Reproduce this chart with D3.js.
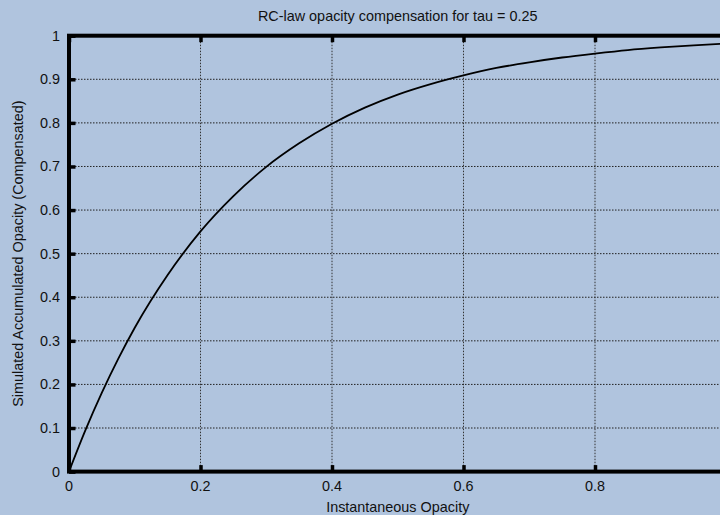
<!DOCTYPE html>
<html>
<head>
<meta charset="utf-8">
<script src="https://cdn.jsdelivr.net/npm/d3@7"></script>
<style>
    body { margin: 0; background: #b0c4de; }
    text { font-family: "Liberation Sans", Arial, sans-serif; fill: #111; }
</style>
</head>
<body>
<div class="chart"></div>
<script>
// values
var opacityIn = [0, 0.025, 0.05, 0.075, 0.1, 0.15, 0.2, 0.25, 0.3, 0.35, 0.4, 0.45, 0.5,
    0.55, 0.6, 0.65, 0.7, 0.75, 0.8, 0.85, 0.9, 0.95, 1.0];
var opacityAccum = [0, 0.095, 0.181, 0.259, 0.330, 0.451, 0.551, 0.632, 0.699, 0.753, 0.798, 0.835, 0.865,
    0.889, 0.909, 0.926, 0.939, 0.950, 0.959, 0.967, 0.973, 0.978, 0.982];
var xTicks = [0, 0.2, 0.4, 0.6, 0.8, 1];
var yTicks = [0, 0.1, 0.2, 0.3, 0.4, 0.5, 0.6, 0.7, 0.8, 0.9, 1];
// the "1" label on x sits past the window edge in the original, so it is left out
var xTickLabels = ["0", "0.2", "0.4", "0.6", "0.8"];
var yTickLabels = ["0", "0.1", "0.2", "0.3", "0.4", "0.5", "0.6", "0.7", "0.8", "0.9", "1"];

var title = "RC-law opacity compensation for tau = 0.25";
var xTitle = "Instantaneous Opacity";
var yTitle = "Simulated Accumulated Opacity (Compensated)";

// margin convention, right side runs past the window like the original
const margin = ({top: 35.7, right: 0, bottom: 43.4, left: 69});
const W = 720, H = 515;
const w = 657.5;
const h = H - margin.top - margin.bottom;
const fontSize = "14.4px";

var svg = d3.select(".chart")
    .append("svg")
    .attr("width", W)
    .attr("height", H)
    .style("display", "block");

var g = svg.append("g")
    .attr("transform", "translate(" + margin.left + "," + margin.top + ")");

var xScale = d3.scaleLinear().domain([0, 1]).range([0, w]);
var yScale = d3.scaleLinear().domain([0, 1]).range([h, 0]);

// grid
g.selectAll(".vgrid")
    .data(xTicks.slice(1, -1))
    .enter().append("line")
    .attr("class", "vgrid")
    .attr("x1", d => xScale(d)).attr("x2", d => xScale(d))
    .attr("y1", 0).attr("y2", h)
    .style("stroke", "#333")
    .style("stroke-width", 1)
    .style("stroke-dasharray", "1.5,1.5");

g.selectAll(".hgrid")
    .data(yTicks.slice(1, -1))
    .enter().append("line")
    .attr("class", "hgrid")
    .attr("x1", 0).attr("x2", w)
    .attr("y1", d => yScale(d)).attr("y2", d => yScale(d))
    .style("stroke", "#222")
    .style("stroke-width", 1)
    .style("stroke-dasharray", "1.5,1.5");

// curve
var line = d3.line()
    .x(d => xScale(d[0]))
    .y(d => yScale(d[1]))
    .curve(d3.curveMonotoneX);

g.append("path")
    .datum(opacityIn.map((x, i) => [x, opacityAccum[i]]))
    .attr("d", line)
    .style("fill", "none")
    .style("stroke", "#000")
    .style("stroke-width", 1.8);

// axes, ticks drawn inward on all four sides
var xAxisBottom = d3.axisBottom(xScale).tickValues(xTicks).tickSize(-6.5).tickFormat("");
var xAxisTop = d3.axisTop(xScale).tickValues(xTicks).tickSize(-6.5).tickFormat("");
var yAxisLeft = d3.axisLeft(yScale).tickValues(yTicks).tickSize(-6.5).tickFormat("");
var yAxisRight = d3.axisRight(yScale).tickValues(yTicks).tickSize(-6.5).tickFormat("");

function styleAxis(sel) {
    sel.select(".domain").remove();
    sel.selectAll(".tick line").style("stroke", "#000").style("stroke-width", 3.5);
}
g.append("g").attr("transform", `translate(0, ${h})`).call(xAxisBottom).call(styleAxis);
g.append("g").call(xAxisTop).call(styleAxis);
g.append("g").call(yAxisLeft).call(styleAxis);
g.append("g").attr("transform", `translate(${w}, 0)`).call(yAxisRight).call(styleAxis);

// frame
g.append("rect")
    .attr("x", 0).attr("y", 0)
    .attr("width", w).attr("height", h)
    .style("fill", "none")
    .style("stroke", "#000")
    .style("stroke-width", 4);

// tick labels
g.selectAll(".xlabel")
    .data(xTickLabels)
    .enter().append("text")
    .attr("class", "xlabel")
    .attr("x", (d, i) => xScale(xTicks[i]))
    .attr("y", h + 19)
    .attr("text-anchor", "middle")
    .style("font-size", fontSize)
    .text(d => d);

g.selectAll(".ylabel")
    .data(yTicks)
    .enter().append("text")
    .attr("class", "ylabel")
    .attr("x", -9)
    .attr("y", d => yScale(d) + 5)
    .attr("text-anchor", "end")
    .style("font-size", fontSize)
    .text((d, i) => yTickLabels[i]);

// titles
g.append("text")
    .attr("x", w / 2)
    .attr("y", -15.2)
    .attr("text-anchor", "middle")
    .style("font-size", fontSize)
    .text(title);

g.append("text")
    .attr("x", w / 2)
    .attr("y", h + 40.5)
    .attr("text-anchor", "middle")
    .style("font-size", fontSize)
    .text(xTitle);

g.append("text")
    .attr("transform", `translate(${22.5 - margin.left}, ${h / 2}) rotate(-90)`)
    .attr("text-anchor", "middle")
    .style("font-size", fontSize)
    .text(yTitle);
</script>
</body>
</html>
